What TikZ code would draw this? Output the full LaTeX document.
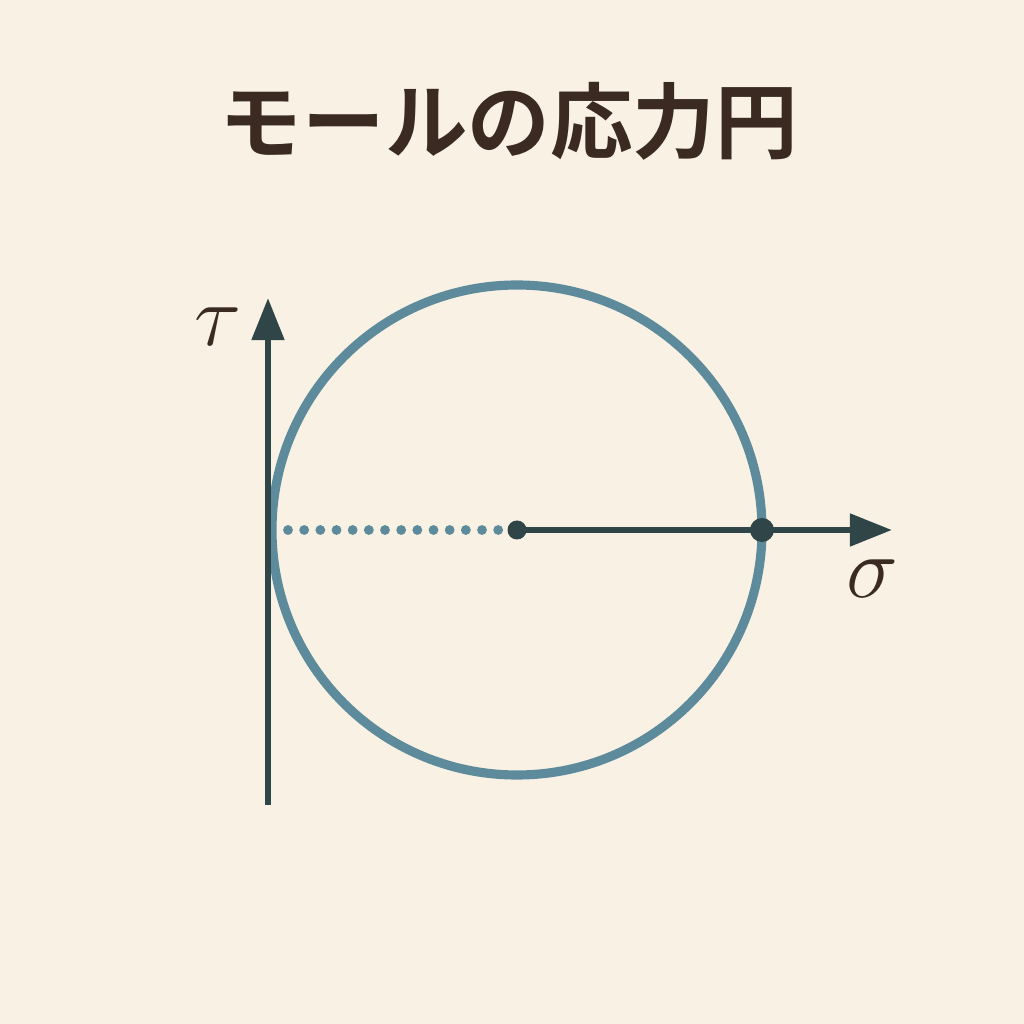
\documentclass[tikz,border=0pt]{standalone}
\usepackage{fontspec}
\newfontfamily\cjk{Noto Sans CJK JP Bold}
\usetikzlibrary{arrows.meta}
\definecolor{paper}{HTML}{F8F1E4}
\definecolor{ring}{HTML}{5E8B9B}
\definecolor{axis}{HTML}{2F4548}
\definecolor{ink}{HTML}{3A2A22}
\tikzset{
  ax/.style={color=axis,line width=1.8pt,-{Triangle[length=12pt,width=9pt]}},
  dot/.style={circle,fill=axis,inner sep=0pt,minimum size=#1},
  lbl/.style={text=ink,font=\fontsize{27}{30}\selectfont}
}
\begin{document}
\begin{tikzpicture}
    \fill[paper] (0,0) rectangle (10.24,10.24);
    \useasboundingbox (0,0) rectangle (10.24,10.24);
    \node[text=ink,font=\cjk\fontsize{23.5}{28}\selectfont] (title) at (5.09,9.03) {モールの応力円};
    \coordinate (O) at (5.17,4.94);
    \coordinate (tb) at (2.68,2.19);
    \coordinate (tt) at (2.68,7.26);
    \coordinate (se) at (8.92,4.94);
    \coordinate (L) at (2.88,4.94);
    \draw[ring,line width=2.6pt] (O) circle (2.45);
    \draw[ax] (tb) -- (tt);
    \draw[ring,line width=2.8pt,line cap=round,dash pattern=on 0pt off 4.6pt] (L) -- (5.05,4.94);
    \draw[ax] (O) -- (se);
    \node[dot=1.9mm] (c) at (O) {};
    \node[dot=2.4mm] (p) at (7.62,4.94) {};
    \node[lbl] (tau) at (2.18,6.97) {$\tau$};
    \node[lbl] (sig) at (8.72,4.45) {$\sigma$};
\end{tikzpicture}
\end{document}
